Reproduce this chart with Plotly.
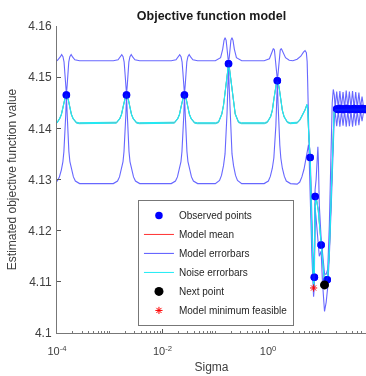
import numpy as np
import plotly.graph_objects as go

# ---------------- data (log10 of Sigma, objective value) ----------------
obs_log_sigma = [-3.822, -2.683, -1.585, -0.75, 0.175, 0.797, 0.891, 1.005, 0.876, 1.12,
                 1.30, 1.33, 1.36, 1.39, 1.42, 1.45, 1.48, 1.51, 1.54, 1.57,
                 1.60, 1.63, 1.66, 1.69, 1.72, 1.75, 1.78, 1.81, 1.84, 1.87]
obs_value = [4.1465, 4.1465, 4.1465, 4.1526, 4.1493, 4.1343, 4.1267, 4.1172, 4.1109, 4.1104,
             4.1438, 4.1437, 4.1439, 4.1438, 4.1437, 4.1438, 4.1439, 4.1438, 4.1437, 4.1438,
             4.1438, 4.1439, 4.1437, 4.1438, 4.1438, 4.1437, 4.1439, 4.1438, 4.1437, 4.1438]

mean_log_sigma = [-4.00, -3.949, -3.917, -3.886, -3.860, -3.841, -3.822, -3.803, -3.784, -3.758, -3.727, -3.695, -3.632, -3.576,
                  -2.929, -2.873, -2.810, -2.778, -2.747, -2.721, -2.702, -2.683, -2.664, -2.645, -2.619, -2.588, -2.556, -2.493, -2.437,
                  -1.831, -1.775, -1.712, -1.680, -1.649, -1.623, -1.604, -1.585, -1.566, -1.547, -1.521, -1.490, -1.458, -1.395, -1.339,
                  -0.996, -0.94, -0.877, -0.845, -0.814, -0.788, -0.769, -0.75, -0.731, -0.712, -0.686, -0.655, -0.623, -0.56, -0.504,
                  -0.071, -0.015, 0.048, 0.08, 0.111, 0.137, 0.156, 0.175, 0.194, 0.213, 0.239, 0.27, 0.302, 0.365, 0.42,
                  0.55, 0.60, 0.65, 0.70, 0.735, 0.75, 0.765, 0.78, 0.797, 0.82, 0.845, 0.862, 0.875, 0.89, 0.91, 0.95,
                  1.005, 1.05, 1.07, 1.10, 1.13, 1.16, 1.18, 1.21, 1.23, 1.25, 1.28, 1.86]
mean_value = [4.1411, 4.1419, 4.1427, 4.1442, 4.1455, 4.1462, 4.1466, 4.1462, 4.1455, 4.1442, 4.1427, 4.1419, 4.1411, 4.1410,
              4.1410, 4.1411, 4.1419, 4.1427, 4.1442, 4.1455, 4.1462, 4.1466, 4.1462, 4.1455, 4.1442, 4.1427, 4.1419, 4.1411, 4.1410,
              4.1410, 4.1411, 4.1419, 4.1427, 4.1442, 4.1455, 4.1462, 4.1466, 4.1462, 4.1455, 4.1442, 4.1427, 4.1419, 4.1411, 4.1410,
              4.1410, 4.1412, 4.1428, 4.1445, 4.1475, 4.1500, 4.1516, 4.1525, 4.1516, 4.1500, 4.1475, 4.1445, 4.1428, 4.1412, 4.1410,
              4.1410, 4.1412, 4.1423, 4.1435, 4.1458, 4.1477, 4.1487, 4.1492, 4.1487, 4.1477, 4.1458, 4.1435, 4.1423, 4.1412, 4.1410,
              4.1411, 4.1416, 4.1425, 4.1436, 4.1446, 4.1440, 4.1400, 4.1360, 4.1340, 4.1230, 4.1120, 4.1090, 4.1110, 4.1250, 4.1265, 4.1240,
              4.1175, 4.1110, 4.1098, 4.1100, 4.1110, 4.1160, 4.1220, 4.1330, 4.1410, 4.1432, 4.1436, 4.1437]

upper_log_sigma = [-4.00, -3.982, -3.942, -3.912, -3.887, -3.867, -3.852, -3.837, -3.822, -3.807, -3.792, -3.777, -3.757, -3.732, -3.702, -3.662, -3.572,
                   -2.933, -2.843, -2.803, -2.773, -2.748, -2.728, -2.713, -2.698, -2.683, -2.668, -2.653, -2.638, -2.618, -2.593, -2.563, -2.523, -2.433,
                   -1.835, -1.745, -1.705, -1.675, -1.650, -1.630, -1.615, -1.600, -1.585, -1.570, -1.555, -1.540, -1.520, -1.495, -1.465, -1.425, -1.335,
                   -1.00, -0.90, -0.86, -0.835, -0.815, -0.795, -0.78, -0.765, -0.75, -0.735, -0.72, -0.705, -0.685, -0.665, -0.64, -0.60, -0.50,
                   -0.075, 0.025, 0.065, 0.10, 0.12, 0.135, 0.15, 0.163, 0.175, 0.187, 0.20, 0.215, 0.23, 0.25, 0.285, 0.33, 0.40, 0.47,
                   0.55, 0.62, 0.67, 0.70, 0.725, 0.74, 0.75, 0.76, 0.775, 0.797, 0.82, 0.845, 0.862, 0.875, 0.89, 0.91, 0.935, 0.943, 0.952, 0.97,
                   1.005, 1.04, 1.07, 1.10, 1.13, 1.16, 1.18, 1.20, 1.215, 1.235, 1.255, 1.27,
                   1.30, 1.33, 1.36, 1.39, 1.42, 1.45, 1.48, 1.51, 1.54, 1.57, 1.60, 1.63, 1.66, 1.69, 1.72, 1.75, 1.78, 1.81, 1.86]
upper_value = [4.1532, 4.1534, 4.1539, 4.1544, 4.1540, 4.1530, 4.1510, 4.1485, 4.1467, 4.1485, 4.1510, 4.1530, 4.1540, 4.1544, 4.1539, 4.1534, 4.1532,
               4.1532, 4.1534, 4.1539, 4.1544, 4.1540, 4.1530, 4.1510, 4.1485, 4.1467, 4.1485, 4.1510, 4.1530, 4.1540, 4.1544, 4.1539, 4.1534, 4.1532,
               4.1532, 4.1534, 4.1539, 4.1544, 4.1540, 4.1530, 4.1510, 4.1485, 4.1467, 4.1485, 4.1510, 4.1530, 4.1540, 4.1544, 4.1539, 4.1534, 4.1532,
               4.1532, 4.1538, 4.1555, 4.1572, 4.1577, 4.1572, 4.1558, 4.1540, 4.1528, 4.1540, 4.1558, 4.1572, 4.1577, 4.1572, 4.1555, 4.1538, 4.1532,
               4.1532, 4.1536, 4.1547, 4.1556, 4.1553, 4.1540, 4.1522, 4.1505, 4.1495, 4.1505, 4.1522, 4.1540, 4.1553, 4.1556, 4.1547, 4.1538, 4.1533, 4.1532,
               4.1535, 4.1541, 4.1549, 4.1552, 4.1548, 4.1530, 4.1490, 4.1420, 4.1375, 4.1348, 4.1250, 4.1140, 4.1110, 4.1125, 4.1280, 4.1300, 4.1355, 4.1364, 4.1340, 4.1250,
               4.1185, 4.1140, 4.1115, 4.1115, 4.1125, 4.1210, 4.1300, 4.1390, 4.1450, 4.1476, 4.1465, 4.1440,
               4.1472, 4.1440, 4.1473, 4.1440, 4.1471, 4.1440, 4.1474, 4.1440, 4.1472, 4.1440, 4.1473, 4.1440, 4.1471, 4.1440, 4.1470, 4.1440, 4.1462, 4.1441, 4.1440]

lower_log_sigma = [-4.00, -3.955, -3.917, -3.888, -3.869, -3.850, -3.835, -3.822, -3.809, -3.794, -3.775, -3.756, -3.727, -3.689, -3.652, -3.572,
                   -2.933, -2.853, -2.816, -2.778, -2.749, -2.730, -2.711, -2.696, -2.683, -2.670, -2.655, -2.636, -2.617, -2.588, -2.550, -2.513, -2.433,
                   -1.835, -1.755, -1.718, -1.680, -1.651, -1.632, -1.613, -1.598, -1.585, -1.572, -1.557, -1.538, -1.519, -1.490, -1.452, -1.415, -1.335,
                   -1.00, -0.92, -0.883, -0.845, -0.816, -0.797, -0.778, -0.763, -0.75, -0.737, -0.722, -0.703, -0.684, -0.655, -0.617, -0.58, -0.50,
                   -0.075, 0.005, 0.042, 0.08, 0.109, 0.128, 0.147, 0.162, 0.175, 0.188, 0.203, 0.222, 0.241, 0.27, 0.308, 0.345, 0.425,
                   0.55, 0.60, 0.64, 0.68, 0.72, 0.75, 0.766, 0.775, 0.785, 0.80, 0.83, 0.862, 0.875, 0.89, 0.905, 0.94, 0.97,
                   1.005, 1.03, 1.069, 1.10, 1.13, 1.16, 1.20, 1.23, 1.25, 1.27,
                   1.30, 1.33, 1.36, 1.39, 1.42, 1.45, 1.48, 1.51, 1.54, 1.57, 1.60, 1.63, 1.66, 1.69, 1.72, 1.75, 1.78, 1.81, 1.86]
lower_value = [4.1296, 4.1305, 4.1319, 4.1335, 4.1355, 4.1385, 4.1425, 4.1462, 4.1425, 4.1385, 4.1355, 4.1335, 4.1319, 4.1305, 4.1297, 4.1292,
               4.1292, 4.1297, 4.1305, 4.1319, 4.1335, 4.1355, 4.1385, 4.1425, 4.1462, 4.1425, 4.1385, 4.1355, 4.1335, 4.1319, 4.1305, 4.1297, 4.1292,
               4.1292, 4.1297, 4.1305, 4.1319, 4.1335, 4.1355, 4.1385, 4.1425, 4.1462, 4.1425, 4.1385, 4.1355, 4.1335, 4.1319, 4.1305, 4.1297, 4.1292,
               4.1292, 4.1298, 4.1308, 4.1327, 4.1350, 4.1380, 4.1430, 4.1480, 4.1522, 4.1480, 4.1430, 4.1380, 4.1350, 4.1327, 4.1308, 4.1298, 4.1292,
               4.1292, 4.1297, 4.1306, 4.1322, 4.1342, 4.1367, 4.1405, 4.1450, 4.1490, 4.1450, 4.1405, 4.1367, 4.1342, 4.1322, 4.1306, 4.1297, 4.1292,
               4.1291, 4.1295, 4.1305, 4.1320, 4.1340, 4.1360, 4.1368, 4.1355, 4.1300, 4.1260, 4.1150, 4.1071, 4.1090, 4.1245, 4.1230, 4.1180, 4.1150,
               4.1160, 4.1100, 4.1042, 4.1060, 4.1090, 4.1150, 4.1260, 4.1360, 4.1410, 4.1434,
               4.1404, 4.1434, 4.1403, 4.1434, 4.1405, 4.1434, 4.1403, 4.1434, 4.1404, 4.1434, 4.1403, 4.1434, 4.1405, 4.1434, 4.1406, 4.1434, 4.1414, 4.1433, 4.1434]

noise_sd = 0.0001

next_log_sigma = [1.069]
next_value = [4.1094]
min_log_sigma = [0.862]
min_value = [4.1088]

y_ticks = [4.10, 4.11, 4.12, 4.13, 4.14, 4.15, 4.16]
y_tick_text = ["4.1", "4.11", "4.12", "4.13", "4.14", "4.15", "4.16"]
x_ticks = [1e-4, 1e-2, 1e0]
x_tick_text = ["10<sup>-4</sup>", "10<sup>-2</sup>", "10<sup>0</sup>"]

# ---------------- build figure ----------------
def sig(lx):
    return list(10 ** np.array(lx, dtype=float))

mv = np.array(mean_value)
noise_x = sig(mean_log_sigma) + [None] + sig(mean_log_sigma)
noise_y = list(mv + noise_sd) + [None] + list(mv - noise_sd)
err_x = sig(upper_log_sigma) + [None] + sig(lower_log_sigma)
err_y = list(upper_value) + [None] + list(lower_value)

FONT = "Liberation Sans, Arial, Helvetica, sans-serif"
fig = go.Figure()

fig.add_trace(go.Scatter(x=sig(obs_log_sigma), y=obs_value, mode="markers", name="Observed points",
                         marker=dict(color="#0000ff", size=7.5, line=dict(width=0))))
fig.add_trace(go.Scatter(x=sig(mean_log_sigma), y=mean_value, mode="lines", name="Model mean",
                         line=dict(color="#ff3030", width=1)))
fig.add_trace(go.Scatter(x=err_x, y=err_y, mode="lines", name="Model errorbars",
                         line=dict(color="rgba(45,45,255,0.72)", width=1.1)))
fig.add_trace(go.Scatter(x=noise_x, y=noise_y, mode="lines", name="Noise errorbars",
                         line=dict(color="rgb(30,235,245)", width=1)))
# observed dots again on top of the curves (legend entry is the first trace)
fig.add_trace(go.Scatter(x=sig(obs_log_sigma), y=obs_value, mode="markers", showlegend=False,
                         marker=dict(color="#0000ff", size=7.5, line=dict(width=0)), opacity=0.9))
fig.add_trace(go.Scatter(x=sig(next_log_sigma), y=next_value, mode="markers", name="Next point",
                         marker=dict(color="#000000", size=9)))
fig.add_trace(go.Scatter(x=sig(min_log_sigma), y=min_value, mode="markers", name="Model minimum feasible",
                         marker=dict(color="#ff0000", size=6, symbol="asterisk-open", line=dict(color="#ff0000", width=1))))

minor_vals = [m * 10.0 ** k for k in range(-4, 2) for m in range(2, 10)] + [1e-3, 1e-1, 1e1]

fig.update_layout(
    width=366, height=376,
    margin=dict(l=57, r=0, t=26, b=43),
    paper_bgcolor="white", plot_bgcolor="white",
    font=dict(family=FONT, size=11, color="#404040"),
    title=dict(text="<b>Objective function model</b>", x=0.5, xref="paper", xanchor="center",
               y=1 - 16 / 376, yanchor="middle", font=dict(size=12.5, color="#1a1a1a")),
    showlegend=True,
    legend=dict(x=0.262, y=0.023, xanchor="left", yanchor="bottom",
                bgcolor="white", bordercolor="#777", borderwidth=1,
                font=dict(size=10, color="#262626"), itemwidth=30, tracegroupgap=0),
)
fig.update_xaxes(type="log", range=[-4, 1.855], tickvals=x_ticks, ticktext=x_tick_text,
                 ticks="inside", ticklen=4, tickcolor="#555", showline=True, linecolor="#777",
                 linewidth=1, showgrid=False, zeroline=False, mirror=False, ticklabelstandoff=8,
                 minor=dict(tickvals=minor_vals, ticks="inside", ticklen=2, tickcolor="#777"),
                 title=dict(text="Sigma", font=dict(size=12, color="#404040"), standoff=6),
                 tickfont=dict(size=11))
fig.update_yaxes(range=[4.1, 4.16], tickvals=y_ticks, ticktext=y_tick_text,
                 ticks="inside", ticklen=4, tickcolor="#555", showline=True, linecolor="#777",
                 linewidth=1, showgrid=False, zeroline=False, ticklabelstandoff=2,
                 title=dict(text="Estimated objective function value", font=dict(size=12, color="#404040"), standoff=9),
                 tickfont=dict(size=12))

fig.write_html("out.html", config={"displayModeBar": False},
               post_script="document.body.style.margin='0';document.body.style.padding='0';")
